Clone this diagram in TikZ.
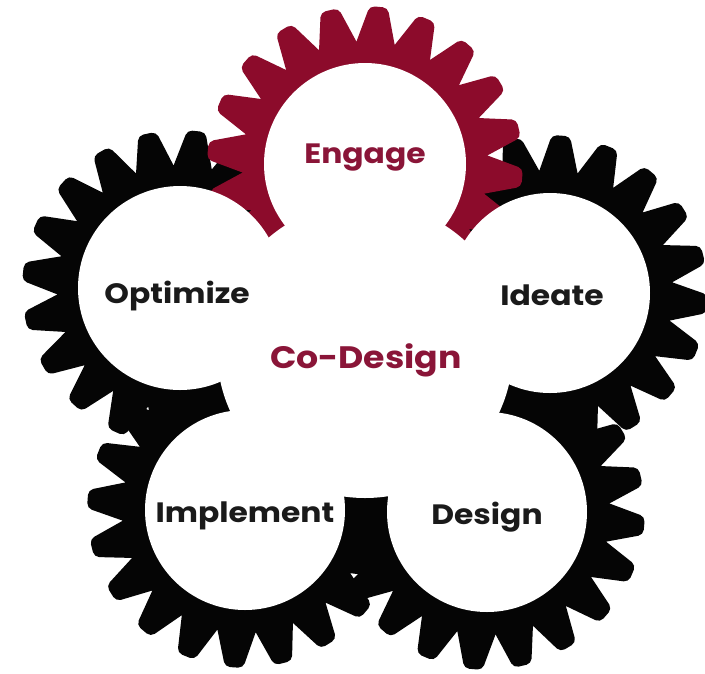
\documentclass[tikz,border=0pt]{standalone}
\usepackage{fontspec}
\setmainfont{Poppins}[FakeStretch=1.12]
\definecolor{gearred}{HTML}{8C0B2B}
\definecolor{textred}{HTML}{8A1538}
\definecolor{gearblack}{HTML}{050505}
\definecolor{textblack}{HTML}{1A1A1A}
\newcommand\drawgear[4]{%
  \begin{scope}[shift={(#1,#2)}]
    \fill[#3] (0,0) circle[radius=123pt];
    \foreach \k in {0,...,19}{%
      \pgfmathsetmacro\a{#4+18*\k}
      \fill[#3,rounded corners=5pt] (\a-11:114) -- (\a-3.3:158) -- (\a+3.3:158) -- (\a+11:114) -- cycle;
    }
  \end{scope}}
\begin{document}
\begin{tikzpicture}[x=1pt,y=-1pt,
  lab/.style={font=\bfseries\fontsize{28}{30}\selectfont,text=textblack,anchor=base,inner sep=0pt},
  labred/.style={lab,text=textred},
  title/.style={labred,font=\bfseries\fontsize{31}{34}\selectfont}]
\useasboundingbox (0,0) rectangle (705,673);
\fill[white] (0,0) rectangle (705,673);
% black gears
\drawgear{180}{288}{gearblack}{96}
\drawgear{550}{293}{gearblack}{94}
\drawgear{245}{510}{gearblack}{4}
\drawgear{487}{512}{gearblack}{5}
% crimson gear on top
\drawgear{365}{164}{gearred}{95}
% white inner faces
\fill[white] (365,350) circle[radius=148pt];
\fill[white] (365,164) circle[radius=101pt];
\fill[white] (180,288) circle[radius=102pt];
\fill[white] (550,293) circle[radius=100pt];
\fill[white] (245,510) circle[radius=100pt];
\fill[white] (487,512) circle[radius=100pt];
% labels
\node[labred] (engage) at (365,163) {Engage};
\node[lab] (optimize) at (177,303) {Optimize};
\node[lab] (ideate) at (552,305) {Ideate};
\node[lab] (implement) at (245,522) {Implement};
\node[lab] (design) at (487,524) {Design};
\node[title] (codesign) at (366,368) {Co-Design};
\end{tikzpicture}
\end{document}
